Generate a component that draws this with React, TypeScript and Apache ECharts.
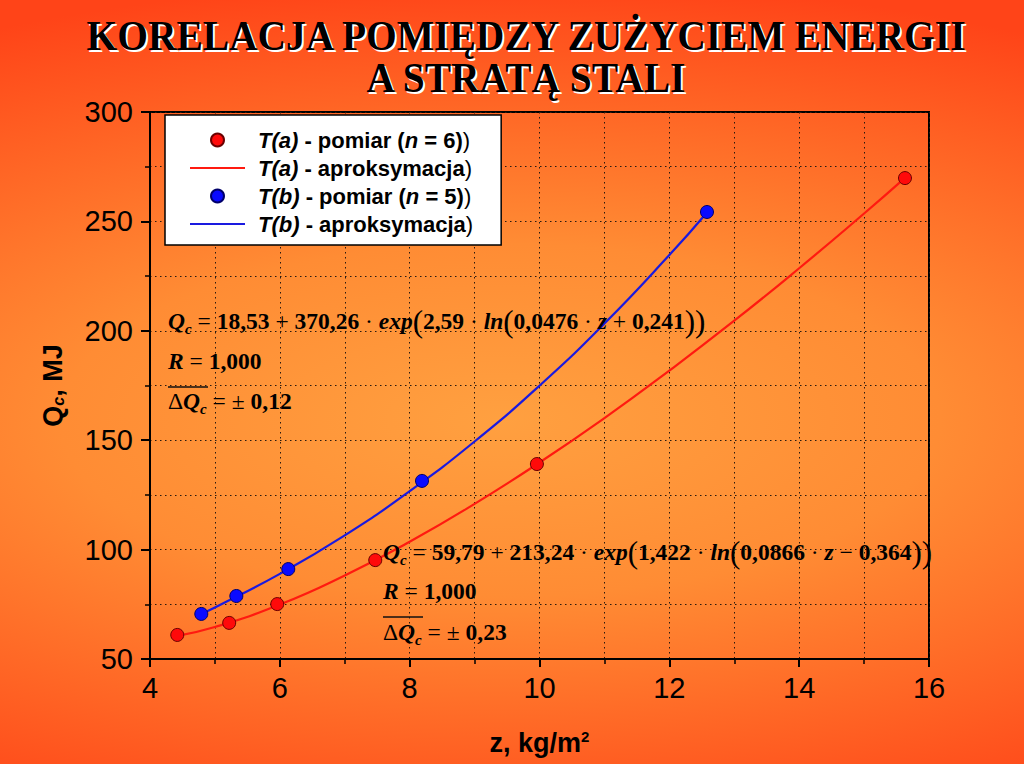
import React, { useEffect, useRef } from 'react';
import * as echarts from 'echarts';

const titleLines = ['KORELACJA POMIĘDZY ZUŻYCIEM ENERGII', 'A STRATĄ STALI'];

// T(a): measured points (z, Qc)
const zA = [4.42, 5.22, 5.96, 7.47, 9.96, 15.63];
const qA = [61.0, 66.5, 75.1, 95.2, 139.1, 269.8];
// T(b): measured points (z, Qc)
const zB = [4.79, 5.33, 6.13, 8.19, 12.58];
const qB = [70.6, 78.8, 91.1, 131.4, 254.3];

// approximation curves
const zFitA = [4.42, 5, 6, 7, 8, 9, 10, 11, 12, 13, 14, 15, 15.63];
const qFitA = [60.6, 64.6, 74.9, 88.2, 103.6, 120.9, 139.8, 160.1, 181.8, 204.6, 228.6, 253.6, 269.9];
const zFitB = [4.79, 5, 6, 7, 8, 9, 10, 11, 12, 12.58];
const qFitB = [70.6, 73.5, 88.9, 106.5, 126.7, 149.4, 174.9, 203.3, 234.6, 254.1];

const seriesNames = [
  'T(a) - pomiar (n = 6))',
  'T(a) - aproksymacja)',
  'T(b) - pomiar (n = 5))',
  'T(b) - aproksymacja)',
];
const legendLabels = [
  '{i0|T(a)}{b| - pomiar (}{i|n}{b| = 6)}{r|)}',
  '{i0|T(a)}{b| - aproksymacja}{r|)}',
  '{i0|T(b)}{b| - pomiar (}{i|n}{b| = 5)}{r|)}',
  '{i0|T(b)}{b| - aproksymacja}{r|)}',
];

const xRange = { min: 4, max: 16, interval: 2 };
const yRange = { min: 50, max: 300, interval: 50 };

const eqB = [
  '{it|Q}{sub|c}{op| = }{num|18,53}{op| + }{num|370,26}{op| · }{it|exp}{par|(}{num|2,59}{op| · }{it|ln}{par|(}{num|0,0476}{op| · }{it|z}{op| + }{num|0,241}{par|))}',
  '{it|R}{op| = }{num|1,000}',
  '{op|Δ}{it|Q}{sub|c}{op| = ± }{num|0,12}',
];
const eqA = [
  '{it|Q}{sub|c}{op| = }{num|59,79}{op| + }{num|213,24}{op| · }{it|exp}{par|(}{num|1,422}{op| · }{it|ln}{par|(}{num|0,0866}{op| · }{it|z}{op| − }{num|0,364}{par|))}',
  '{it|R}{op| = }{num|1,000}',
  '{op|Δ}{it|Q}{sub|c}{op| = ± }{num|0,23}',
];

const SERIF = '"Liberation Serif", "Times New Roman", serif';
const NARROW = '"Liberation Sans Narrow", "Arial Narrow", "Liberation Sans", Arial, sans-serif';
const SANS = '"Liberation Sans", Arial, sans-serif';

const EQ = 23.5;
const eqRich = {
  it: { fontFamily: SERIF, fontSize: EQ, fontWeight: 'bold', fontStyle: 'italic', color: '#111' },
  num: { fontFamily: SERIF, fontSize: EQ, fontWeight: 'bold', color: '#111' },
  op: { fontFamily: SERIF, fontSize: EQ, fontWeight: 'normal', color: '#111' },
  sub: { fontFamily: SERIF, fontSize: 15, fontWeight: 'bold', fontStyle: 'italic', color: '#111', verticalAlign: 'bottom' },
  par: { fontFamily: SERIF, fontSize: 31, fontWeight: 'normal', color: '#111' },
};

function eqBlock(lines: string[], x: number, ys: number[], overY: number, overW: number) {
  const els: any[] = lines.map((t, i) => ({
    type: 'text',
    x,
    y: ys[i],
    z: 50,
    style: { text: t, rich: eqRich, align: 'left', verticalAlign: 'middle', lineHeight: 30 },
  }));
  els.push({
    type: 'line',
    z: 50,
    shape: { x1: x, y1: overY, x2: x + overW, y2: overY },
    style: { stroke: '#111', lineWidth: 1.5 },
  });
  return els;
}

export default function App() {
  const ref = useRef<HTMLDivElement>(null);
  useEffect(() => {
    if (!ref.current) return;
    const chart = echarts.init(ref.current, undefined, { renderer: 'svg' });
    const dotted = { color: '#2a1a10', type: [1.5, 3.5], width: 1 };
    const titleEls: any[] = [];
    const titleYs = [36, 78];
    titleLines.forEach((t, i) => {
      titleEls.push({
        type: 'text', x: 528, y: titleYs[i] + 2, scaleX: 0.94, z: 60,
        style: { text: t, font: `bold 42px ${SERIF}`, fill: '#ffffff', align: 'center', verticalAlign: 'middle' },
      });
      titleEls.push({
        type: 'text', x: 526, y: titleYs[i], scaleX: 0.94, z: 61,
        style: { text: t, font: `bold 42px ${SERIF}`, fill: '#000000', align: 'center', verticalAlign: 'middle' },
      });
    });
    const lineIcon = 'path://M0,0h55v2.2h-55z';
    const option: any = {
      animation: false,
      backgroundColor: 'transparent',
      grid: { left: 150, top: 112, width: 779, height: 547, show: true, borderColor: '#000', borderWidth: 2, backgroundColor: 'transparent' },
      xAxis: {
        type: 'value', min: xRange.min, max: xRange.max, interval: xRange.interval,
        axisLine: { show: true, onZero: false, lineStyle: { color: '#000', width: 2 } },
        axisTick: { show: true, length: 8, lineStyle: { color: '#000', width: 2 } },
        minorTick: { show: true, splitNumber: 2, length: 5, lineStyle: { color: '#000', width: 1.5 } },
        splitLine: { show: true, lineStyle: dotted },
        minorSplitLine: { show: true, lineStyle: dotted },
        axisLabel: { fontFamily: NARROW, fontSize: 29, color: '#000', margin: 14 },
        name: '{b|z, kg/m}{sup|2}',
        nameLocation: 'middle', nameGap: 70,
        nameTextStyle: {
          rich: {
            b: { fontFamily: NARROW, fontSize: 27, fontWeight: 'bold', color: '#000' },
            sup: { fontFamily: NARROW, fontSize: 15, fontWeight: 'bold', color: '#000', verticalAlign: 'top' },
          },
        },
      },
      yAxis: {
        type: 'value', min: yRange.min, max: yRange.max, interval: yRange.interval,
        axisLine: { show: true, onZero: false, lineStyle: { color: '#000', width: 2 } },
        axisTick: { show: true, length: 9, lineStyle: { color: '#000', width: 2 } },
        minorTick: { show: true, splitNumber: 2, length: 5, lineStyle: { color: '#000', width: 1.5 } },
        splitLine: { show: true, lineStyle: dotted },
        minorSplitLine: { show: true, lineStyle: dotted },
        axisLabel: { fontFamily: NARROW, fontSize: 29, color: '#000', margin: 17 },
        name: '{q|Q}{s|c}{q|, MJ}',
        nameLocation: 'middle', nameGap: 84,
        nameTextStyle: {
          rich: {
            q: { fontFamily: NARROW, fontSize: 27, fontWeight: 'bold', color: '#000' },
            s: { fontFamily: NARROW, fontSize: 16, fontWeight: 'bold', fontStyle: 'italic', color: '#000', verticalAlign: 'bottom' },
          },
        },
      },
      legend: {
        orient: 'vertical', left: 165, top: 115,
        data: [
          { name: seriesNames[0], icon: 'circle' },
          { name: seriesNames[1], icon: lineIcon },
          { name: seriesNames[2], icon: 'circle' },
          { name: seriesNames[3], icon: lineIcon },
        ],
        backgroundColor: '#ffffff', borderColor: '#000', borderWidth: 1.5, borderRadius: 0,
        padding: [14, 28, 10, 25],
        itemWidth: 55, itemHeight: 13, itemGap: 6,
        formatter: (name: string) => legendLabels[seriesNames.indexOf(name)],
        textStyle: {
          color: '#000',
          rich: {
            i0: { fontFamily: SANS, fontSize: 22, fontWeight: 'bold', fontStyle: 'italic', color: '#000', padding: [0, 0, 0, 8], lineHeight: 24 },
            i: { fontFamily: SANS, fontSize: 22, fontWeight: 'bold', fontStyle: 'italic', color: '#000', lineHeight: 24 },
            b: { fontFamily: SANS, fontSize: 22, fontWeight: 'bold', color: '#000', lineHeight: 24 },
            r: { fontFamily: SANS, fontSize: 22, fontWeight: 'normal', color: '#000', lineHeight: 24 },
          },
        },
      },
      series: [
        {
          name: seriesNames[1], type: 'line', data: zFitA.map((z, i) => [z, qFitA[i]]),
          smooth: 0.5, symbol: 'none', z: 3,
          lineStyle: { color: '#ff1a10', width: 2.2 }, itemStyle: { color: '#ff1a10' },
        },
        {
          name: seriesNames[3], type: 'line', data: zFitB.map((z, i) => [z, qFitB[i]]),
          smooth: 0.5, symbol: 'none', z: 3,
          lineStyle: { color: '#1a1ae0', width: 2.2 }, itemStyle: { color: '#1a1ae0' },
        },
        {
          name: seriesNames[0], type: 'scatter', data: zA.map((z, i) => [z, qA[i]]),
          symbolSize: 13, z: 4,
          itemStyle: { color: '#ff0a0a', borderColor: '#6a0000', borderWidth: 1, opacity: 1 },
        },
        {
          name: seriesNames[2], type: 'scatter', data: zB.map((z, i) => [z, qB[i]]),
          symbolSize: 13, z: 4,
          itemStyle: { color: '#0a0aff', borderColor: '#00006a', borderWidth: 1, opacity: 1 },
        },
      ],
      graphic: [
        ...titleEls,
        ...eqBlock(eqB, 168, [321, 361, 401], 387, 40),
        ...eqBlock(eqA, 383, [552, 591, 632], 617, 40),
      ],
    };
    chart.setOption(option);
    return () => chart.dispose();
  }, []);
  return (
    <div
      ref={ref}
      style={{
        position: 'absolute', left: 0, top: 0, width: 1024, height: 764,
        background: 'radial-gradient(ellipse 1100px 440px at 500px 420px, #ffa040 0%, #ff8c34 40%, #ff4418 100%)',
      }}
    />
  );
}
